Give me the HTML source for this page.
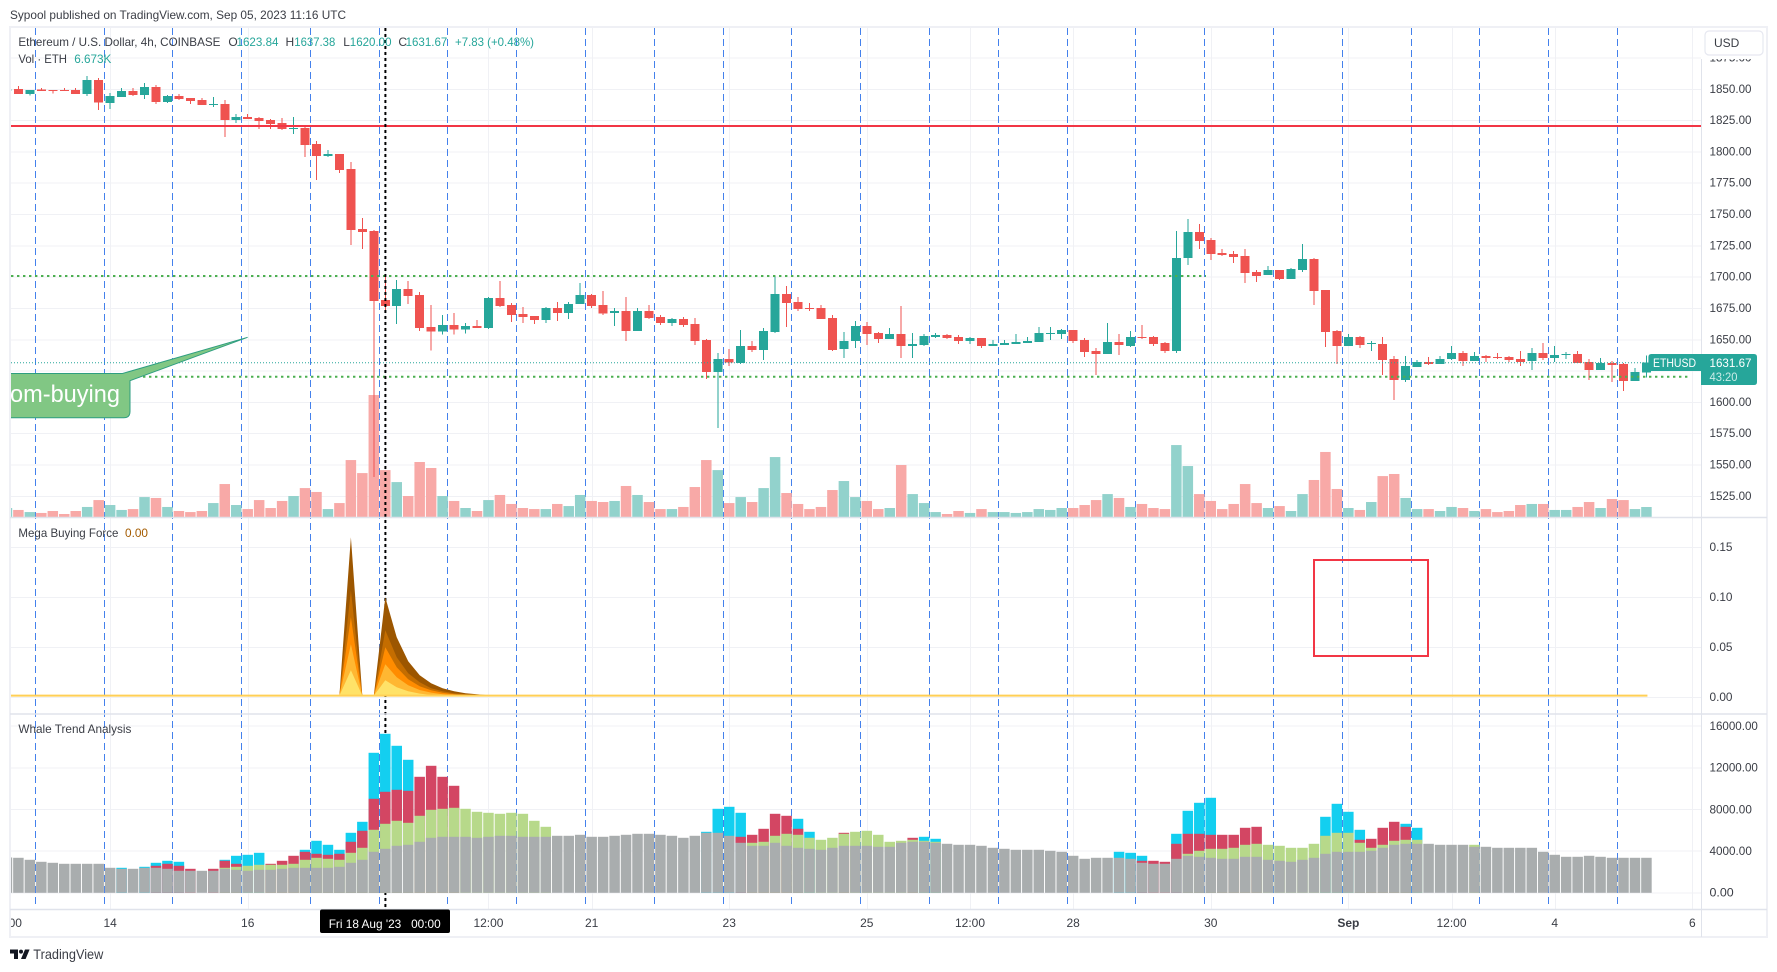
<!DOCTYPE html>
<html lang="en">
<head>
<meta charset="utf-8">
<title>ETHUSD 4h chart</title>
<style>
html,body{margin:0;padding:0;background:#fff;width:1777px;height:972px;overflow:hidden}
svg{display:block;font-family:"Liberation Sans",sans-serif}
text{font-family:"Liberation Sans",sans-serif}
</style>
</head>
<body>
<svg id="chart" xmlns="http://www.w3.org/2000/svg" width="1777" height="972" viewBox="0 0 1777 972">
  <defs>
    <clipPath id="plot-clip"><rect x="11" y="28" width="1690" height="881"/></clipPath>
    <clipPath id="axis-clip"><rect x="1702" y="59" width="64" height="850"/></clipPath>
    <clipPath id="time-clip"><rect x="11" y="910" width="1690" height="26"/></clipPath>
  </defs>
  <rect x="0" y="0" width="1777" height="972" fill="#ffffff"/>
  <text x="10" y="19" font-size="12" fill="#3a3d45" textLength="336" lengthAdjust="spacingAndGlyphs">Sypool published on TradingView.com, Sep 05, 2023 11:16 UTC</text>
  <g id="grid" shape-rendering="crispEdges"></g>
  <g id="dashes" shape-rendering="crispEdges"></g>
  <g id="volume" clip-path="url(#plot-clip)"></g>
  <g id="candles" clip-path="url(#plot-clip)" shape-rendering="crispEdges"></g>
  <g id="levels"></g>
  <g clip-path="url(#plot-clip)">
    <path d="M0 373.5H122.5L247.6 337.3L130 380.7V411.5Q130 417.7 124 417.7H0Z" fill="#81c784" stroke="#2e9e80" stroke-width="1"/>
    <text x="10" y="402" font-size="24" fill="#ffffff" textLength="110" lengthAdjust="spacingAndGlyphs">om-buying</text>
  </g>
  <rect x="1314" y="560" width="114" height="96" fill="none" stroke="#f23645" stroke-width="2"/>
  <line x1="385.4" y1="28" x2="385.4" y2="909" stroke="#000000" stroke-width="2" stroke-dasharray="3 3"/>
  <g id="mega" clip-path="url(#plot-clip)"></g>
  <g id="whale" clip-path="url(#plot-clip)"></g>

  <g fill="none">
    <rect x="10" y="27" width="1757" height="910" stroke="#eff0f5" stroke-width="2"/>
    <line x1="10" y1="517.5" x2="1767" y2="517.5" stroke="#e0e3eb" stroke-width="1.5"/>
    <line x1="10" y1="714" x2="1767" y2="714" stroke="#e0e3eb" stroke-width="1.5"/>
    <line x1="10" y1="909.5" x2="1767" y2="909.5" stroke="#e0e3eb" stroke-width="1.5"/>
    <line x1="1701.5" y1="59" x2="1701.5" y2="937" stroke="#e0e3eb" stroke-width="1"/>
  </g>

  <g id="axis-labels" clip-path="url(#axis-clip)" font-size="12" fill="#3a3d45"></g>
  <g id="time-labels" clip-path="url(#time-clip)" font-size="12" fill="#3a3d45"></g>

  <g>
    <rect x="1705" y="31" width="58" height="24" rx="4" fill="#ffffff" stroke="#e6e8f0" stroke-width="1.2"/>
    <text x="1714" y="47" font-size="12" fill="#3a3d45">USD</text>
  </g>

  <g font-size="12">
    <text x="18.4" y="46" fill="#3a3d45" textLength="202" lengthAdjust="spacingAndGlyphs">Ethereum / U.S. Dollar, 4h, COINBASE</text>
    <text x="228.4" y="46" fill="#3a3d45">O</text>
    <text x="236.5" y="46" fill="#26a69a" textLength="42" lengthAdjust="spacingAndGlyphs">1623.84</text>
    <text x="285.5" y="46" fill="#3a3d45">H</text>
    <text x="294.3" y="46" fill="#26a69a" textLength="41" lengthAdjust="spacingAndGlyphs">1637.38</text>
    <text x="343.3" y="46" fill="#3a3d45">L</text>
    <text x="349.8" y="46" fill="#26a69a" textLength="41.7" lengthAdjust="spacingAndGlyphs">1620.00</text>
    <text x="398.4" y="46" fill="#3a3d45">C</text>
    <text x="405.6" y="46" fill="#26a69a" textLength="41.7" lengthAdjust="spacingAndGlyphs">1631.67</text>
    <text x="455" y="46" fill="#26a69a" textLength="79" lengthAdjust="spacingAndGlyphs">+7.83 (+0.48%)</text>
    <text x="18.4" y="63" fill="#3a3d45" textLength="48.6" lengthAdjust="spacingAndGlyphs">Vol · ETH</text>
    <text x="74.2" y="63" fill="#26a69a" textLength="37.2" lengthAdjust="spacingAndGlyphs">6.673K</text>
    <text x="18.4" y="537" fill="#3a3d45" textLength="100" lengthAdjust="spacingAndGlyphs">Mega Buying Force</text>
    <text x="125" y="537" fill="#a45b00" textLength="23" lengthAdjust="spacingAndGlyphs">0.00</text>
    <text x="18.4" y="733" fill="#3a3d45" textLength="113" lengthAdjust="spacingAndGlyphs">Whale Trend Analysis</text>
  </g>

  <g>
    <path d="M1651.4 354H1701V371H1651.4Q1648.4 371 1648.4 368V357Q1648.4 354 1651.4 354Z" fill="#26a69a"/>
    <text x="1653" y="367" font-size="12" fill="#ffffff" textLength="43" lengthAdjust="spacingAndGlyphs">ETHUSD</text>
    <path d="M1701 354H1754Q1757 354 1757 357V382Q1757 385 1754 385H1701Z" fill="#26a69a"/>
    <text x="1709.5" y="367" font-size="12" fill="#ffffff" textLength="42" lengthAdjust="spacingAndGlyphs">1631.67</text>
    <text x="1709.5" y="381" font-size="12" fill="#c9ebe7" textLength="28" lengthAdjust="spacingAndGlyphs">43:20</text>
  </g>

  <g>
    <rect x="320" y="909.5" width="130" height="23.5" rx="2" fill="#000000"/>
    <text x="328.7" y="928" font-size="12" fill="#ffffff" textLength="112" lengthAdjust="spacingAndGlyphs" xml:space="preserve">Fri 18 Aug '23   00:00</text>
  </g>

  <g>
    <g fill="#131722">
      <path d="M10 949.5h8v9.5h-4v-5.5h-4z"/>
      <circle cx="21" cy="951.6" r="2"/>
      <path d="M25 949.5h4.6l-4 9.5h-4.6z"/>
    </g>
    <text x="33.3" y="959" font-size="14" fill="#3a3d45" textLength="70" lengthAdjust="spacingAndGlyphs">TradingView</text>
  </g>
</svg>

<script>
// ---- Price data: one entry per 4h bar, first entry is the partially clipped bar ----
const opens = [1849.5,
1850.3,1846.3,1849.7,1849.5,1849.5,1849.5,1846.3,1857.5,1839.1,1843.9,
1848.7,1845.5,1851.9,1839.9,1844.7,1843.1,1841.5,1837.5,1838.3,1825.5,
1827.9,1827.1,1825.5,1823.1,1818.3,1819.1,1806.3,1796.8,1798.4,1786.4,
1738.5,1736.9,1681.8,1677,1690.5,1685.8,1660.2,1656.5,1661.8,1658.3,
1661,1659.4,1683.4,1677.8,1670.6,1669,1665.8,1675.4,1671.4,1678.6,
1685.8,1677.7,1671.4,1673,1657,1673,1668.2,1663.4,1666.6,1662.6,
1649.8,1624.2,1634.6,1631.4,1645,1641.8,1656.2,1686.5,1680.1,1675.4,
1675.4,1667.4,1642.6,1649,1661,1655.4,1650.6,1654.6,1645,1645.8,
1652.2,1653.8,1652.2,1649,1651.4,1645,1645.8,1646.6,1647.4,1648.2,
1654.6,1654.6,1657.8,1649.8,1641,1638.6,1648.2,1645,1652.2,1652.2,
1647.4,1641,1715.3,1736,1729.7,1719.3,1718.5,1716.9,1704.1,1701.7,
1705.7,1698.5,1705.7,1714.5,1689.7,1657,1645,1652.2,1646.6,1646.6,
1634.6,1617.9,1628.2,1632.2,1630.6,1634.6,1639.4,1633,1637,1636.2,
1636.2,1634.6,1633,1639.4,1635.4,1637.8,1638.6,1632.2,1625.8,1631.4,
1630.6,1617.1,1623.84];
const highs = [1850.3,
1852.7,1849.5,1851.1,1849.5,1851.1,1851.1,1860.6,1859,1847.1,1851.1,
1851.1,1855.1,1853.5,1845.5,1846.3,1843.1,1843.1,1843.9,1841.5,1830.3,
1830.3,1827.9,1826.3,1827.1,1827.9,1820.7,1808.7,1801.6,1798.4,1792,
1747.2,1737.7,1700.4,1697.7,1696.9,1688.1,1677.8,1669.8,1671.4,1663.4,
1665.8,1684.2,1696.9,1679.4,1676.2,1669,1676.2,1680.2,1680.2,1695.3,
1686.6,1688.9,1675.4,1684.1,1675.4,1677.7,1669.8,1667.4,1668.2,1667.4,
1650.6,1639.4,1642.6,1657.8,1649,1659.4,1700.9,1692.9,1684.1,1679.3,
1677.7,1669.8,1656.2,1665,1664.2,1656.2,1659.4,1676.9,1655.4,1654.6,
1655.4,1654.6,1653.8,1652.2,1651.4,1649.8,1649.8,1654.6,1652.2,1660.2,
1660.2,1658.6,1657.8,1651.4,1643.4,1663.4,1654.6,1657,1661.8,1653,
1648.2,1736.8,1746.4,1742.4,1731.2,1722.5,1720.9,1722.5,1705.7,1708.9,
1705.7,1707.3,1726.5,1715.3,1689.7,1657.8,1654.6,1653,1649,1652.2,
1637,1637,1633.8,1636.2,1637,1645,1641,1640.2,1637.8,1639.4,
1637,1641,1643.4,1647.4,1645,1640.2,1641,1634.6,1635.4,1633,
1631.4,1627.4,1637.38];
const lows = [1849.3,
1846.3,1845.2,1848.7,1846.5,1848.7,1846.3,1844.7,1833.5,1834.3,1843.9,
1844.7,1842.3,1838.3,1839.1,1841.5,1838.3,1837.5,1835.9,1811.9,1823.1,
1826.3,1818.3,1818.3,1817.5,1814.3,1796,1777.6,1796,1783.2,1725.7,
1722.5,1540.4,1673,1662.6,1678.6,1657,1641.3,1654.3,1654.3,1655.1,
1659.4,1658.6,1676.2,1664.2,1663.4,1662.6,1663.4,1665,1666.6,1678.6,
1675.4,1669.8,1661,1649,1657,1666.6,1661.8,1661,1660.2,1645.8,
1618.6,1579.5,1629,1630.6,1640.2,1633.8,1655.4,1660.2,1673,1673,
1666.6,1641,1635.4,1643.4,1645.8,1647.4,1650.6,1635.4,1635.4,1645,
1651.4,1650.6,1646.6,1646.6,1643.4,1645,1645.8,1646.6,1647.4,1648.2,
1649.8,1650.6,1647.4,1636.2,1621.8,1638.6,1637.8,1644.2,1650.6,1645,
1639.4,1639.4,1709.7,1722.5,1713.7,1716.9,1711.3,1695.3,1696.1,1701.7,
1697.7,1698.5,1704.1,1677.7,1644.2,1630.6,1645,1643.4,1641,1621.8,
1601.9,1616.3,1628.2,1629.8,1630.6,1633.8,1629,1633,1632.2,1634.6,
1632.2,1629,1625.8,1633.8,1632.2,1634.6,1631.4,1617.9,1625.8,1616.3,
1609.1,1617.1,1620];
const closes = [1850,
1846.3,1849.5,1848.7,1848.7,1848.7,1846.3,1857.5,1839.4,1844.7,1848.7,
1845.5,1851.9,1839.9,1844.7,1842.3,1840.7,1837.5,1838.3,1825.5,1827.9,
1826.3,1824.7,1822.3,1818.3,1819.1,1805.5,1796.8,1798.4,1785.6,1737.7,
1736.1,1680.9,1677,1690.5,1685,1659.4,1656.5,1661.8,1658.3,1661,
1659.4,1683.4,1677,1669.8,1668.2,1665.8,1675.4,1671.4,1678.6,1685.8,
1677,1671.1,1673,1657,1673,1667.4,1663.4,1666.6,1661.8,1649,
1624.2,1634.6,1631.7,1645,1641.8,1657,1686.5,1679.3,1674.6,1674.6,
1666.6,1641.8,1649,1661,1654.6,1650.6,1654.6,1645,1646.6,1653,
1653.8,1651.4,1649,1651.4,1645,1646.6,1647.4,1648.2,1649,1655.4,
1655.4,1657.8,1649,1640.2,1638.6,1648.2,1645.8,1652.2,1651.4,1646.6,
1641,1715.3,1736,1728.9,1718.5,1717.7,1716.1,1703.3,1700.9,1705.7,
1698.5,1706.5,1714.5,1688.9,1656.2,1645,1652.2,1645.8,1647.4,1633.8,
1617.9,1629,1632.2,1630.6,1634.6,1639.4,1633,1637,1635.4,1635.4,
1633.8,1632.2,1639.4,1635.4,1637.8,1638.6,1631.4,1625.8,1631.4,1629.8,
1617.1,1624.2,1631.67];
// Volume in thousands of ETH
const volumes = [6,
4.7,3.3,2.7,4,2,4,6.7,11.3,8,4.7,
5.3,13.3,12.7,6.7,4,3.3,4,9.3,22,8,
5.3,11.3,6,10.7,14,19.3,16.7,5.3,9.3,38,
29.3,81.4,31.3,23.3,14,36.7,32.7,14,10.7,6,
4,11.3,14.7,8.7,6,5.3,5.3,8.7,7.3,14.7,10.7,
10,10.7,20.7,14.7,10,5.3,5.3,6.7,20,38,
31.3,9.3,13.3,10,19.3,40,16,8.7,5.3,6.7,
18,24,13.3,10.7,5.3,6,34.7,15.3,9.3,3.3,
2,4,2.7,5.3,3.3,3.3,2.7,3.3,5.3,4.7,
6,6,8,11.3,15.3,12.7,6.7,8.7,6,5.3,
48,34,15.3,10.7,5.3,8.7,22,9.3,6,7.3,
4,15.3,24.7,43.4,18.7,6,4.7,10,27.3,28.7,
12.7,5.3,5.3,4,6.7,6,4,5.3,3.3,4,
8,8.7,8.7,4.7,4.7,6.7,10,6,12,11.3,5.3,6.673];

// ---- Whale Trend Analysis: base level per bar, then bar number / level pairs ----
const whaleGrey = [3392,
3360,3168,2976,2880,2784,2784,2784,2784,2400,2304,
2304,2400,2400,2304,2112,2112,2112,2112,2304,2208,
2112,2208,2208,2304,2400,2400,2400,2400,2496,2880,
3168,3936,4224,4512,4608,4896,5280,5376,5376,5376,
5280,5376,5472,5472,5376,5376,5376,5472,5472,5568,
5376,5376,5472,5568,5664,5664,5568,5472,5280,5472,
5760,5760,5472,4800,4512,4512,4800,4512,4320,4224,
4128,4320,4512,4512,4512,4416,4416,4800,4896,4896,
4800,4704,4608,4608,4512,4320,4224,4128,4128,4128,
4032,3936,3552,3264,3360,3360,3360,3264,2880,2784,
2784,3264,3552,3456,3360,3264,3264,3456,3456,3168,
3072,2976,3168,3360,3744,3936,3936,3936,4032,4320,
4608,4704,4704,4704,4608,4608,4608,4416,4416,4320,
4320,4320,4320,3936,3648,3456,3456,3552,3456,3360,
3360,3360,3360];
const whaleGreenBars = [18,19,20,21,22,23,24,25,26,27,28,29,30,31,32,33,34,35,36,37,38,39,40,41,42,43,44,45,46,
64,65,66,67,68,69,70,71,72,73,74,75,76,77,78,79,80,
102,103,104,105,106,107,108,109,110,111,112,113,114,115,116,117,118,119,120,121,122,127];
const whaleGreenLevels = [2400,2496,2592,2688,2688,2688,2784,3168,3360,3264,3168,3840,4320,6048,6624,6912,6720,7392,7968,8064,8160,8064,7776,7680,7584,7680,7584,6912,6336,
4800,4896,5472,5664,5568,5280,5088,5280,5664,5856,5952,5568,4896,4992,5088,4992,4896,
3744,4032,4224,4224,4320,4608,4704,4608,4512,4320,4320,4704,5472,5760,5760,4800,4320,4608,4992,5088,5088,4608];
const whaleRedBars = [12,13,14,15,17,18,19,22,23,24,25,26,27,28,29,30,31,32,33,34,35,36,37,38,
63,64,65,66,67,68,72,78,
98,99,100,101,102,103,104,105,106,107,108,117,118,119,120,121];
const whaleRedLevels = [2592,2784,2592,2304,2304,3072,2784,2784,3072,3552,3936,3744,3648,3744,4896,5952,9024,9696,9888,9792,11136,12192,11136,10272,
5376,5568,6144,7584,7392,6144,5760,5280,
3072,3072,2976,4704,5664,5664,5568,5568,5568,6240,6336,5088,5184,6240,6816,6336];
const whaleCyanBars = [9,11,12,13,14,18,19,20,21,25,26,27,28,29,30,31,32,33,34,
60,61,62,63,68,69,79,80,
96,97,98,101,102,103,104,114,115,116,117,121,122];
const whaleCyanLevels = [2400,2496,2880,3072,2976,3168,3552,3648,3840,4128,4992,4608,4128,5760,6816,13440,15264,14112,12768,
5856,8064,8256,7680,7104,5856,5376,5184,
3936,3840,3552,5664,7872,8640,9120,7296,8544,7776,6048,6624,6240];

// ---- Mega Buying Force: five nested layers over consecutive bars ----
const megaBars = [28,29,30,31,32,33,34,35,36,37,38,39,40,41,42,43];
const megaLayer1 = [0,.16,0,0,.1,.06,.036,.022,.014,.009,.006,.004,.003,.002,.001,0];
const megaLayer2 = [0,.107,0,0,.067,.04,.024,.015,.009,.006,.004,.003,.002,.001,.001,0];
const megaLayer3 = [0,.08,0,0,.05,.03,.018,.011,.007,.0045,.003,.002,.0015,.001,.0005,0];
const megaLayer4 = [0,.053,0,0,.033,.02,.012,.0073,.0047,.003,.002,.0013,.001,.0007,.0003,0];
const megaLayer5 = [0,.027,0,0,.017,.01,.006,.0037,.0023,.0015,.001,.0007,.0005,.0003,.0002,0];
const megaFloor = 0.0017;

// ---- Axes ticks and levels ----
const priceTicks = [1875,1850,1825,1800,1775,1750,1725,1700,1675,1650,1625,1600,1575,1550,1525];
const megaTicks = [0.15,0.10,0.05,0.00];
const whaleTicks = [16000,12000,8000,4000,0];
const timeTickBars = [-1,8,20,32,41,50,62,74,83,92,104,116,125,134,146];
const timeTickLabels = ['00','14','16','18','12:00','21','23','25','12:00','28','30','Sep','12:00','4','6'];
const dayLineBars = [1.47,7.47,13.47,19.47,25.47,31.47,37.47,43.47,49.47,55.47,61.47,67.47,73.47,79.47,85.47,91.47,97.47,103.47,109.47,115.47,121.47,127.47,133.47,139.47];
const resistanceLevel = 1820.7;
const upperSupportLevel = 1700.9;
const lowerSupportLevel = 1620.5;
const lastPrice = 1631.67;

// ---- Axis functions ----
const xOfBar = b => 18.4 + 11.465 * b;
const priceY = p => 89.3 + (1850 - p) * 1.2523;
const volumeY = k => 517 - k * 1.4986;
const megaY = v => 697.3 - v * 1000;
const whaleY = v => 892.8 - v * 0.010417;

const NS = 'http://www.w3.org/2000/svg';
function mk(tag, attrs, parentId) {
  const el = document.createElementNS(NS, tag);
  for (const k in attrs) el.setAttribute(k, attrs[k]);
  document.getElementById(parentId).appendChild(el);
  return el;
}

// Grid
priceTicks.forEach(p => {
  const el = mk('line', {x1: 11, x2: 1701, y1: priceY(p), y2: priceY(p), stroke: '#f0f1f5', 'stroke-width': 1}, 'grid');
  
  
  const t = mk('text', {x: 1709.5, y: priceY(p) + 3.5, textLength: 42, lengthAdjust: 'spacingAndGlyphs'}, 'axis-labels');
  
  
  t.textContent = p.toFixed(2);
});
megaTicks.forEach(v => {
  const el = mk('line', {x1: 11, x2: 1701, y1: megaY(v), y2: megaY(v), stroke: '#f0f1f5', 'stroke-width': 1}, 'grid');
  
  
  const t = mk('text', {x: 1709.5, y: megaY(v) + 3.5, textLength: 23, lengthAdjust: 'spacingAndGlyphs'}, 'axis-labels');
  
  
  t.textContent = v.toFixed(2);
});
whaleTicks.forEach(v => {
  const el = mk('line', {x1: 11, x2: 1701, y1: whaleY(v), y2: whaleY(v), stroke: '#f0f1f5', 'stroke-width': 1}, 'grid');
  
  
  const s = v.toFixed(2);
  const t = mk('text', {x: 1709.5, y: whaleY(v) + 3.8, textLength: s.length * 6.05, lengthAdjust: 'spacingAndGlyphs'}, 'axis-labels');
  
  
  t.textContent = s;
});
timeTickBars.forEach((b, i) => {
  const x = xOfBar(b);
  if (x > 11) {
    const gx = Math.round(x) + 0.5;
    const el = mk('line', {x1: gx, x2: gx, y1: 28, y2: 909, stroke: '#f0f1f5', 'stroke-width': 1}, 'grid');
    
    
  }
  const isBold = timeTickLabels[i] === 'Sep';
  const label = b === -1 ? '12:00' : timeTickLabels[i];
  const t = mk('text', {x: x, y: 927, 'text-anchor': 'middle', 'font-weight': isBold ? 'bold' : 'normal'}, 'time-labels');
  
  
  t.textContent = label;
});

// Daily dashed lines
dayLineBars.forEach(b => {
  const x = Math.floor(xOfBar(b)) + 0.5;
  const el = mk('line', {x1: x, x2: x, y1: 28, y2: 906, stroke: '#4481ec', 'stroke-width': 1, 'stroke-dasharray': '7 4'}, 'dashes');
  
  
});

// Volume and candles
opens.forEach((o, i) => {
  const bar = i - 1;
  const x = xOfBar(bar);
  const c = closes[i];
  const up = c >= o;
  const vt = volumeY(volumes[i]);
  const v = mk('rect', {x: x - 5.25, y: vt, width: 10.5, height: 517 - vt, fill: up ? '#92d2cc' : '#f8a9a7'}, 'volume');
  
  
  const color = up ? '#26a69a' : '#ef5350';
  const w = mk('rect', {x: x - 0.5, y: priceY(highs[i]), width: 1, height: priceY(lows[i]) - priceY(highs[i]), fill: color}, 'candles');
  
  
  const top = priceY(Math.max(o, c));
  const bot = priceY(Math.min(o, c));
  const b = mk('rect', {x: x - 4.5, y: top, width: 9, height: Math.max(1, bot - top), fill: color}, 'candles');
  
  
});

// Horizontal levels
const lastLine = mk('line', {x1: 11, x2: 1701, y1: priceY(lastPrice), y2: priceY(lastPrice), stroke: '#26a69a', 'stroke-width': 1, 'stroke-dasharray': '1 2'}, 'levels');


const upperLine = mk('line', {x1: 11, x2: 1206, y1: priceY(upperSupportLevel), y2: priceY(upperSupportLevel), stroke: '#4caf50', 'stroke-width': 2, 'stroke-dasharray': '2.4 3.6'}, 'levels');


const lowerLine = mk('line', {x1: 11, x2: 1691, y1: priceY(lowerSupportLevel), y2: priceY(lowerSupportLevel), stroke: '#4caf50', 'stroke-width': 2, 'stroke-dasharray': '2.4 3.6'}, 'levels');


const redLine = mk('line', {x1: 11, x2: 1701, y1: priceY(resistanceLevel), y2: priceY(resistanceLevel), stroke: '#f23645', 'stroke-width': 2}, 'levels');



// Mega Buying Force areas
const megaLayers = [megaLayer1, megaLayer2, megaLayer3, megaLayer4, megaLayer5];
const megaColors = ['#9c5600', '#c46d00', '#ff8c00', '#ffb732', '#ffe268'];
megaLayers.forEach((layer, k) => {
  const base = megaY(megaFloor);
  const pts = layer.map((v, i) => xOfBar(megaBars[i]).toFixed(1) + ',' + megaY(Math.max(v, megaFloor)).toFixed(1));
  pts.unshift(xOfBar(megaBars[0]).toFixed(1) + ',' + base);
  pts.push(xOfBar(megaBars[megaBars.length - 1]).toFixed(1) + ',' + base);
  const el = mk('polygon', {points: pts.join(' '), fill: megaColors[k]}, 'mega');
  
  
});
const megaLine = mk('line', {x1: 11, x2: xOfBar(142) + 1, y1: megaY(megaFloor), y2: megaY(megaFloor), stroke: '#ffcf55', 'stroke-width': 2}, 'mega');



// Whale Trend columns: tallest colour first so each level shows above the next
function whaleBar(bar, value, color) {
  const x = xOfBar(bar);
  const t = whaleY(value);
  const el = mk('rect', {x: x - 5.25, y: t, width: 10.5, height: whaleY(0) - t, fill: color}, 'whale');
  
  
}
whaleCyanBars.forEach((b, i) => whaleBar(b, whaleCyanLevels[i], '#13cff0'));
whaleRedBars.forEach((b, i) => whaleBar(b, whaleRedLevels[i], '#d34663'));
whaleGreenBars.forEach((b, i) => whaleBar(b, whaleGreenLevels[i], '#b7d98a'));
whaleGrey.forEach((v, i) => whaleBar(i - 1, v, '#a9adae'));
</script>
</body>
</html>
